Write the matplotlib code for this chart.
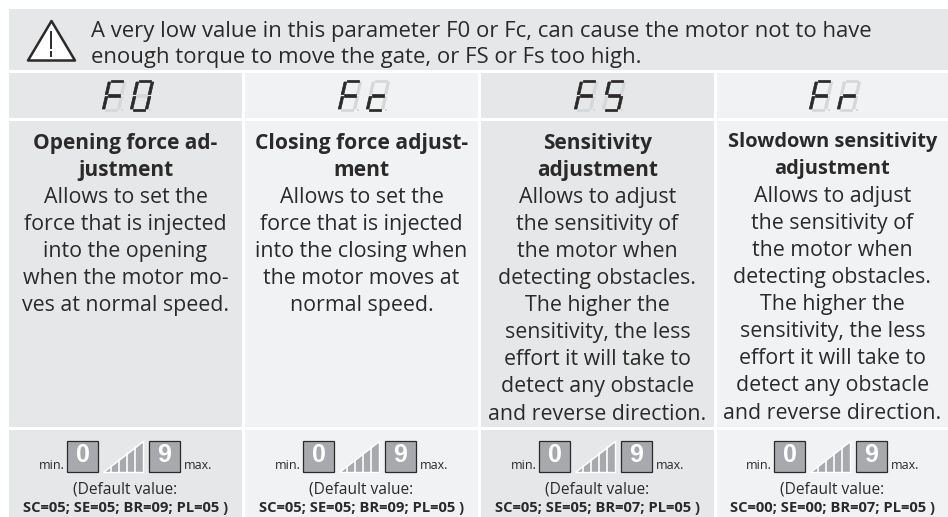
# -*- coding: utf-8 -*-
import matplotlib.pyplot as plt
from matplotlib.patches import Polygon, Rectangle

plt.rcParams['font.family'] = ['Open Sans', 'DejaVu Sans']

aviso = ['A very low value in this parameter F0 or Fc, can cause the motor not to have',
         'enough torque to move the gate, or FS or Fs too high.']
codigos = ['F0', 'Fc', 'FS', 'Fr']
titulos = [['Opening force ad-', 'justment'],
           ['Closing force adjust-', 'ment'],
           ['Sensitivity', 'adjustment'],
           ['Slowdown sensitivity', 'adjustment']]
sens = ['Allows to adjust', 'the sensitivity of', 'the motor when',
        'detecting obstacles.', 'The higher the', 'sensitivity, the less',
        'effort it will take to', 'detect any obstacle',
        'and reverse direction.']
textos = [['Allows to set the', 'force that is injected', 'into the opening',
           'when the motor mo-', 'ves at normal speed.'],
          ['Allows to set the', 'force that is injected', 'into the closing when',
           'the motor moves at', 'normal speed.'],
          sens, sens]
padroes = ['SC=05; SE=05; BR=09; PL=05 )',
           'SC=05; SE=05; BR=09; PL=05 )',
           'SC=05; SE=05; BR=07; PL=05 )',
           'SC=00; SE=00; BR=07; PL=05 )']

# segmentos acesos de cada caractere
segs = {'F': 'afge', '0': 'abcdef', 'c': 'ged', 'S': 'afgcd', 'r': 'eg'}

esq = [9, 245, 481, 717]
dir_ = [242, 478, 714, 948]
cinza = ['#e6e7e8', '#f1f2f4', '#e6e7e8', '#f1f2f4']
tam_titulo = [15.0, 15.1, 15.0, 14.4]
desl_y = [0, 0, 0, -1]
tinta = '#2b2a29'

fig = plt.figure(figsize=(9.48, 5.17), dpi=100)
ax = fig.add_axes([0, 0, 1, 1])
ax.set_xlim(0, 948)
ax.set_ylim(517, 0)
ax.axis('off')


def segmento(x, y, nome, cor):
    ''' Desenha um segmento do display, inclinado '''
    w, h = 15, 14.5
    t = 2.6
    inc = 0.2
    linhas = {'a': (0, 0, 1, 0), 'g': (0, 1, 1, 1), 'd': (0, 2, 1, 2),
              'f': (0, 0, 0, 1), 'b': (1, 0, 1, 1),
              'e': (0, 1, 0, 2), 'c': (1, 1, 1, 2)}
    x0, y0, x1, y1 = linhas[nome]
    ax0 = x + x0*w - (y0*h - h)*inc
    ax1 = x + x1*w - (y1*h - h)*inc
    ay0, ay1 = y + y0*h, y + y1*h
    if y0 == y1:
        pts = [(ax0+1.5, ay0-t/2), (ax1-1.5, ay1-t/2), (ax1-1.5, ay1+t/2), (ax0+1.5, ay0+t/2)]
    else:
        pts = [(ax0-t/2, ay0+1), (ax0+t/2, ay0+1), (ax1+t/2, ay1-1), (ax1-t/2, ay1-1)]
    ax.add_patch(Polygon(pts, closed=True, fc=cor, ec=cor, lw=0.5, joinstyle='round'))


def display(cx, y, codigo):
    for i, c in enumerate(codigo):
        x = cx - 19 + i*28
        for s in 'abcdefg':
            segmento(x, y, s, '#d6d7d9')
        ax.add_patch(Rectangle((x+15, y+27.5), 2, 2, fc='#d6d7d9', ec='none'))
        for s in segs[c]:
            segmento(x, y, s, tinta)


def escala(cx, y):
    ''' min. [0] rampa [9] max. '''
    ax.text(cx-61, y+28, 'min.', ha='right', va='baseline', fontsize=9.0, color=tinta)
    ax.add_patch(Rectangle((cx-58.5, y), 31, 31, fc='#a7a9ac', ec=tinta, lw=0.9))
    ax.text(cx-43, y+14.5, '0', ha='center', va='center', fontsize=18,
            fontweight='bold', color='white', family=['Liberation Sans'])
    ax.add_patch(Rectangle((cx+23.5, y), 31, 31, fc='#a7a9ac', ec=tinta, lw=0.9))
    ax.text(cx+39, y+14.5, '9', ha='center', va='center', fontsize=18,
            fontweight='bold', color='white', family=['Liberation Sans'])
    ax.text(cx+58, y+28, 'max.', ha='left', va='baseline', fontsize=9.0, color=tinta)
    # rampa
    ax.add_patch(Polygon([(cx-22, y+31), (cx+18, y+31), (cx+18, y)], closed=True,
                         fc='#a7a9ac', ec='white', lw=1))
    for k in range(1, 5):
        xx = cx - 22 + k*8
        ax.plot([xx, xx], [y+31-(k*8)*31/40, y+31], color='white', lw=1.2)


# Faixa de aviso
ax.add_patch(Rectangle((9, 9), 939, 61, fc=cinza[0], ec='none'))
ax.add_patch(Polygon([(51.5, 21), (75, 60.5), (28, 60.5)], closed=True, fc='white',
                     ec=tinta, lw=1.8, joinstyle='round'))
ax.plot([51.5, 51.5], [32, 48], color=tinta, lw=1.4)
ax.plot([51.5, 51.5], [52, 56], color=tinta, lw=1.4)
for k, linha in enumerate(aviso):
    ax.text(91, 31 + k*27, linha, ha='left', va='center', fontsize=15.9, color=tinta)

for i in range(4):
    cx = (esq[i] + dir_[i]) / 2
    larg = dir_[i] - esq[i]
    ax.add_patch(Rectangle((esq[i], 73), larg, 45, fc=cinza[i], ec='none'))
    ax.add_patch(Rectangle((esq[i], 121), larg, 306, fc=cinza[i], ec='none'))
    ax.add_patch(Rectangle((esq[i], 430), larg, 87, fc=cinza[i], ec='none'))
    display(cx, 81, codigos[i])
    y = 143 + desl_y[i]
    for linha in titulos[i]:
        ax.text(cx, y, linha, ha='center', va='center', fontsize=tam_titulo[i],
                fontweight='bold', color=tinta)
        y += 27.1
    for linha in textos[i]:
        ax.text(cx, y, linha, ha='center', va='center', fontsize=15.4, color=tinta)
        y += 27.1
    escala(cx, 441)
    ax.text(cx, 489.5, '(Default value:', ha='center', va='center', fontsize=11.2, color=tinta)
    ax.text(cx, 508, padroes[i], ha='center', va='center', fontsize=10.6, fontweight='bold', color=tinta)

fig.savefig('out.png', dpi=100)
